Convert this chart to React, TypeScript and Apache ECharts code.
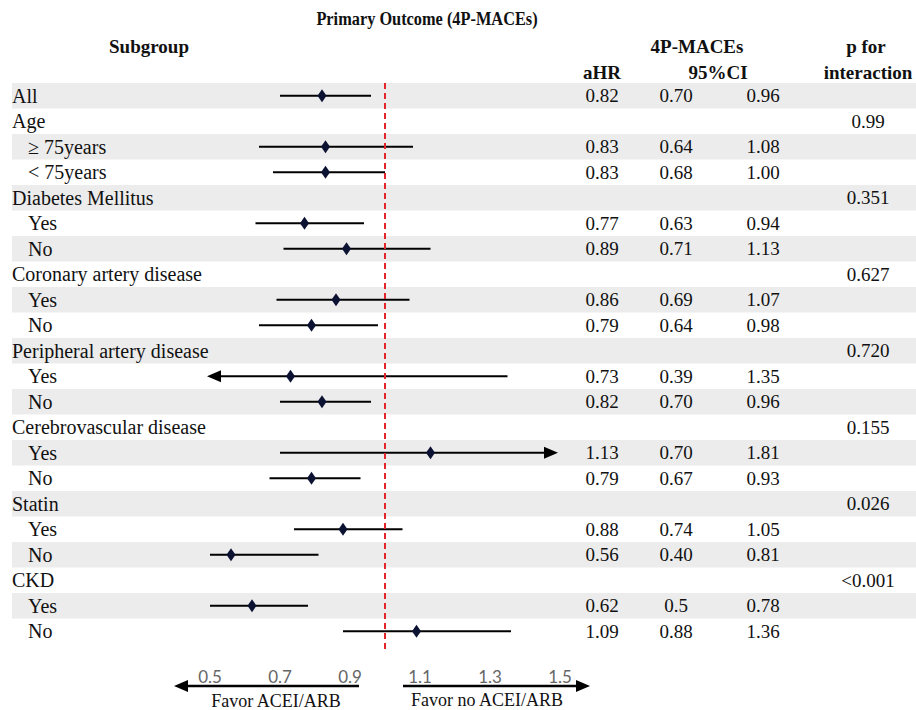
import React, { useEffect, useRef } from "react";
import * as echarts from "echarts";

// ---------- data ----------
const rowLabels = [
  "All", "Age", "≥ 75years", "< 75years",
  "Diabetes Mellitus", "Yes", "No",
  "Coronary artery disease", "Yes", "No",
  "Peripheral artery disease", "Yes", "No",
  "Cerebrovascular disease", "Yes", "No",
  "Statin", "Yes", "No",
  "CKD", "Yes", "No",
];
const rowLevel = [0, 0, 1, 1, 0, 1, 1, 0, 1, 1, 0, 1, 1, 0, 1, 1, 0, 1, 1, 0, 1, 1];
const hrText = ["0.82", "", "0.83", "0.83", "", "0.77", "0.89", "", "0.86", "0.79", "", "0.73", "0.82", "", "1.13", "0.79", "", "0.88", "0.56", "", "0.62", "1.09"];
const lowerText = ["0.70", "", "0.64", "0.68", "", "0.63", "0.71", "", "0.69", "0.64", "", "0.39", "0.70", "", "0.70", "0.67", "", "0.74", "0.40", "", "0.5", "0.88"];
const upperText = ["0.96", "", "1.08", "1.00", "", "0.94", "1.13", "", "1.07", "0.98", "", "1.35", "0.96", "", "1.81", "0.93", "", "1.05", "0.81", "", "0.78", "1.36"];
const pText = ["", "0.99", "", "", "0.351", "", "", "0.627", "", "", "0.720", "", "", "0.155", "", "", "0.026", "", "", "<0.001", "", ""];
const arrowLeftRows = [11];
const arrowRightRows = [14];
const tickLabels = ["0.5", "0.7", "0.9", "1.1", "1.3", "1.5"];
const X_MIN = 0.5;
const X_MAX = 1.5;
const REF_LINE = 1;

// ---------- style constants ----------
const SERIF = '"Liberation Serif", "Times New Roman", serif';
const TXT = "#111111";
const STRIPE = "#ececec";
const LABEL_X = 12;
const INDENT = 16;
const COL_HR = 602;
const COL_LO = 676;
const COL_UP = 763;
const COL_P = 868;

export default function App() {
  const ref = useRef<HTMLDivElement>(null);

  useEffect(() => {
    if (!ref.current) return;
    const chart = echarts.init(ref.current, null, { renderer: "svg" });
    const n = rowLabels.length;
    const idx = rowLabels.map((_, i) => i);
    const hr = hrText.map((s) => (s ? parseFloat(s) : null));
    const lo = lowerText.map((s) => (s ? parseFloat(s) : null));
    const up = upperText.map((s) => (s ? parseFloat(s) : null));

    const stripeData = idx.filter((i) => i % 2 === 0).map((i) => [REF_LINE, i]);
    const barData = idx.filter((i) => hr[i] != null).map((i) => [lo[i], i, up[i]]);
    const pointData = idx.filter((i) => hr[i] != null).map((i) => [hr[i], i]);
    const textData = idx.map((i) => [REF_LINE, i]);

    const t = (text: string, x: number, y: number, font: string, align: string, scaleX = 1) => ({
      type: "text",
      x,
      y,
      scaleX,
      style: {
        text,
        font,
        fill: TXT,
        align,
        textAlign: align,
        verticalAlign: "middle",
        textVerticalAlign: "middle",
      },
    });

    const headFont = `bold 19px ${SERIF}`;
    const titleFont = `bold 19px ${SERIF}`;

    chart.setOption({
      animation: false,
      grid: { left: 210, right: 356, top: 83, bottom: 58.35, containLabel: false },
      xAxis: {
        type: "value",
        min: X_MIN,
        max: X_MAX,
        interval: 0.1,
        axisLine: { show: true, lineStyle: { color: "#000", width: 2.5 } },
        axisTick: { show: false },
        splitLine: { show: false },
        axisLabel: {
          margin: 16,
          color: "#666",
          fontFamily: "Lato",
          fontSize: 17,
          formatter: (v: number) => {
            const s = v.toFixed(1);
            return tickLabels.includes(s) ? s : "";
          },
        },
      },
      yAxis: {
        type: "value",
        min: -0.5,
        max: n - 0.2,
        inverse: true,
        show: false,
      },
      graphic: [
        t("Primary Outcome (4P-MACEs)", 427, 19, titleFont, "center", 0.86),
        t("Subgroup", 149, 46, headFont, "center"),
        t("4P-MACEs", 697, 46, headFont, "center"),
        t("p for", 866, 46, headFont, "center"),
        t("aHR", 602, 72, headFont, "center"),
        t("95%CI", 718, 72, headFont, "center"),
        t("interaction", 868, 72, headFont, "center"),
        // favor arrows
        { type: "line", shape: { x1: 186, y1: 686, x2: 359, y2: 686 }, style: { stroke: "#000", lineWidth: 2.5 } },
        { type: "polygon", shape: { points: [[174, 686], [188, 680], [188, 692]] }, style: { fill: "#000" } },
        { type: "line", shape: { x1: 403, y1: 686, x2: 578, y2: 686 }, style: { stroke: "#000", lineWidth: 2.5 } },
        { type: "polygon", shape: { points: [[590, 686], [576, 680], [576, 692]] }, style: { fill: "#000" } },
        t("Favor ACEI/ARB", 276, 701, `18px ${SERIF}`, "center"),
        t("Favor no ACEI/ARB", 487, 700, `18px ${SERIF}`, "center"),
      ],
      series: [
        {
          type: "custom",
          z: 1,
          clip: false,
          silent: true,
          data: stripeData,
          renderItem: (params: any, api: any) => {
            const i = api.value(1);
            const y0 = api.coord([REF_LINE, i - 0.5])[1];
            const y1 = api.coord([REF_LINE, i + 0.5])[1];
            return {
              type: "rect",
              shape: { x: 12, y: y0, width: 904, height: y1 - y0 },
              style: { fill: STRIPE },
            };
          },
        },
        {
          type: "custom",
          z: 2,
          clip: false,
          silent: true,
          data: textData,
          renderItem: (params: any, api: any) => {
            const i = api.value(1);
            const y = api.coord([REF_LINE, i])[1];
            const labelFont = `20px ${SERIF}`;
            const numFont = `19px ${SERIF}`;
            const children: any[] = [
              t(rowLabels[i], LABEL_X + rowLevel[i] * INDENT, y, labelFont, "left"),
            ];
            if (hrText[i]) children.push(t(hrText[i], COL_HR, y, numFont, "center"));
            if (lowerText[i]) children.push(t(lowerText[i], COL_LO, y, numFont, "center"));
            if (upperText[i]) children.push(t(upperText[i], COL_UP, y, numFont, "center"));
            if (pText[i]) children.push(t(pText[i], COL_P, y, numFont, "center"));
            return { type: "group", children };
          },
        },
        {
          type: "custom",
          z: 3,
          clip: false,
          silent: true,
          data: barData,
          renderItem: (params: any, api: any) => {
            const l = api.value(0);
            const i = api.value(1);
            const u = api.value(2);
            const p1 = api.coord([Math.max(l, X_MIN), i]);
            const p2 = api.coord([Math.min(u, X_MAX), i]);
            const children: any[] = [];
            let x1 = p1[0];
            let x2 = p2[0];
            const y = p1[1];
            const left = arrowLeftRows.includes(i);
            const right = arrowRightRows.includes(i);
            const tipL = x1 - 3;
            const tipR = x2 - 2;
            if (left) {
              children.push({ type: "polygon", shape: { points: [[tipL, y], [tipL + 14, y - 6], [tipL + 14, y + 6]] }, style: { fill: "#000" } });
              x1 = tipL + 12;
            }
            if (right) {
              children.push({ type: "polygon", shape: { points: [[tipR, y], [tipR - 14, y - 6], [tipR - 14, y + 6]] }, style: { fill: "#000" } });
              x2 = tipR - 12;
            }
            children.push({ type: "line", shape: { x1, y1: y, x2, y2: y }, style: { stroke: "#000", lineWidth: 2 } });
            return { type: "group", children };
          },
        },
        {
          type: "scatter",
          z: 5,
          silent: true,
          symbolSize: 0,
          data: [],
          markLine: {
            silent: true,
            symbol: "none",
            label: { show: false },
            lineStyle: { color: "#e3262a", type: [6, 4], width: 2 },
            data: [{ xAxis: REF_LINE }],
          },
        },
        {
          type: "scatter",
          z: 6,
          silent: true,
          symbol: "diamond",
          symbolSize: [9, 13],
          itemStyle: { color: "#0c1232", opacity: 1 },
          data: pointData,
        },
      ],
    });
    return () => chart.dispose();
  }, []);

  return (
    <div
      ref={ref}
      style={{ position: "absolute", left: 0, top: 0, width: 916, height: 710, background: "#fff" }}
    />
  );
}
